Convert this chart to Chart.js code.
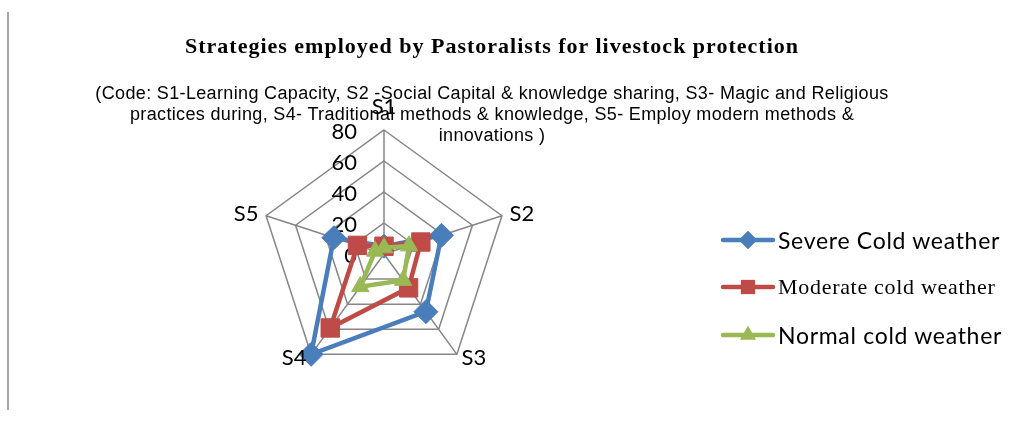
<!DOCTYPE html>
<html>
<head>
<meta charset="utf-8">
<script src="https://cdn.jsdelivr.net/npm/chart.js@4.4.1/dist/chart.umd.min.js"></script>
<style>
  html, body { margin: 0; padding: 0; background: #fff; }
  #wrap { position: relative; width: 1022px; height: 421px; overflow: hidden; }
  #edge { position: absolute; left: 7px; top: 12px; width: 2px; height: 398px; background: #a6a6a6; }
  #radar { position: absolute; left: 0; top: 0; }
  .title { position: absolute; left: 0; width: 984px; text-align: center; top: 33px; letter-spacing: 1px;
    font: bold 22px "Liberation Serif", "Times New Roman", serif; color: #000; }
  .sub { position: absolute; left: 0; width: 984px; text-align: center; top: 83px; letter-spacing: 0.35px;
    font: 18px "Liberation Sans", Arial, sans-serif; line-height: 21px; color: #000; }
  .legend { position: absolute; left: 720px; top: 0; }
  .item { position: absolute; left: 0; height: 30px; white-space: nowrap; }
  .item canvas { position: absolute; left: 0; top: 0; }
  .item span { position: absolute; left: 58px; top: 50%; transform: translateY(-50%); color: #000; letter-spacing: 0.7px; }
</style>
</head>
<body>
<div id="wrap">
  <div id="edge"></div>
  <canvas id="radar" width="1022" height="421"></canvas>
  <div class="title">Strategies employed by Pastoralists for livestock protection</div>
  <div class="sub">(Code: S1-Learning Capacity, S2 -Social Capital &amp; knowledge sharing, S3- Magic and Religious<br>practices during, S4- Traditional methods &amp; knowledge, S5- Employ modern methods &amp;<br>innovations )</div>
  <div class="legend" id="legend"></div>
</div>
<script>
const categories = ['S1', 'S2', 'S3', 'S4', 'S5'];
const severeCold = [5, 39, 46, 80, 34];
const moderateCold = [5, 25, 27, 59, 18];
const normalCold = [4, 17, 21, 26, 6];
const tickValues = [0, 20, 40, 60, 80];

const sansFont = 'Lato, "Open Sans", sans-serif';

const series = [
  { label: 'Severe Cold weather', data: severeCold, color: '#4a7ebb', marker: 'rectRot', radius: 12, legendRadius: 9,
    font: `23px ${sansFont}` },
  { label: 'Moderate cold weather', data: moderateCold, color: '#be4b48', marker: 'rect', radius: 13, legendRadius: 10,
    font: '22px "Liberation Serif", "Times New Roman", serif' },
  { label: 'Normal cold weather', data: normalCold, color: '#98b954', marker: 'triangle', radius: 10, legendRadius: 9,
    font: `23px ${sansFont}` },
];

const legendRows = [240, 287, 335];

// tick labels sit left of the S1 axis like the original, so they're drawn by hand
const tickLabelPlugin = {
  id: 'tickLabels',
  beforeDatasetsDraw(chart) {
    const scale = chart.scales.r;
    const ctx = chart.ctx;
    ctx.save();
    ctx.font = `22px ${sansFont}`;
    ctx.fillStyle = '#000';
    ctx.textAlign = 'right';
    ctx.textBaseline = 'middle';
    tickValues.forEach((v) => {
      const y = scale.yCenter - scale.getDistanceFromCenterForValue(v);
      ctx.fillText(String(v), scale.xCenter - 27, y + 2);
    });
    ctx.restore();
  },
};

// category labels hug the outer vertices (left/right aligned by side)
const pointLabelPlugin = {
  id: 'pointLabelsOut',
  afterDraw(chart) {
    const scale = chart.scales.r;
    const ctx = chart.ctx;
    ctx.save();
    ctx.font = `22px ${sansFont}`;
    ctx.fillStyle = '#000';
    categories.forEach((label, i) => {
      const p = scale.getPointPosition(i, scale.drawingArea + 8);
      const dx = p.x - scale.xCenter;
      const dy = p.y - scale.yCenter;
      if (Math.abs(dx) < 2) {
        ctx.textAlign = 'center';
        ctx.textBaseline = 'bottom';
        ctx.fillText(label, p.x, p.y - 4);
      } else {
        ctx.textAlign = dx > 0 ? 'left' : 'right';
        ctx.textBaseline = 'middle';
        ctx.fillText(label, p.x, dy > 0 ? p.y - 3 : p.y + 1);
      }
    });
    ctx.restore();
  },
};

const renderLegend = () => {
  const box = document.getElementById('legend');
  series.forEach((s, idx) => {
    const item = document.createElement('div');
    item.className = 'item';
    item.style.top = `${legendRows[idx] - 15}px`;
    const c = document.createElement('canvas');
    c.width = 56;
    c.height = 30;
    const ctx = c.getContext('2d');
    ctx.strokeStyle = s.color;
    ctx.lineWidth = 4.5;
    ctx.lineCap = 'round';
    ctx.beginPath();
    ctx.moveTo(3, 15);
    ctx.lineTo(53, 15);
    ctx.stroke();
    ctx.fillStyle = s.color;
    Chart.helpers.drawPoint(ctx, { pointStyle: s.marker, radius: s.legendRadius, borderWidth: 0 }, 28, 15);
    ctx.fill();
    item.appendChild(c);
    const span = document.createElement('span');
    span.style.font = s.font;
    span.textContent = s.label;
    item.appendChild(span);
    box.appendChild(item);
  });
};

const init = () => {
  const ctx = document.getElementById('radar');
  // later series sit on top, as in the original (lower order is drawn last)
  const datasets = series.map((s, idx) => ({
    label: s.label,
    data: s.data,
    order: series.length - idx,
    borderColor: s.color,
    backgroundColor: s.color,
    pointBackgroundColor: s.color,
    pointBorderColor: s.color,
    pointStyle: s.marker,
    pointRadius: s.radius,
    pointBorderWidth: 1,
    borderWidth: 4.5,
    fill: false,
  }));

  new Chart(ctx, {
    type: 'radar',
    data: { labels: categories, datasets },
    options: {
      responsive: false,
      animation: false,
      layout: { padding: { left: 260, right: 514, top: 130, bottom: 43 } },
      plugins: { legend: { display: false }, tooltip: { enabled: false } },
      scales: {
        r: {
          min: 0,
          max: 80,
          ticks: { stepSize: 20, display: false },
          grid: { color: '#868686', lineWidth: 1.5 },
          angleLines: { color: '#868686', lineWidth: 1.5 },
          pointLabels: { display: false },
        },
      },
    },
    plugins: [tickLabelPlugin, pointLabelPlugin],
  });
  renderLegend();
};

document.addEventListener('DOMContentLoaded', init);
</script>
</body>
</html>
